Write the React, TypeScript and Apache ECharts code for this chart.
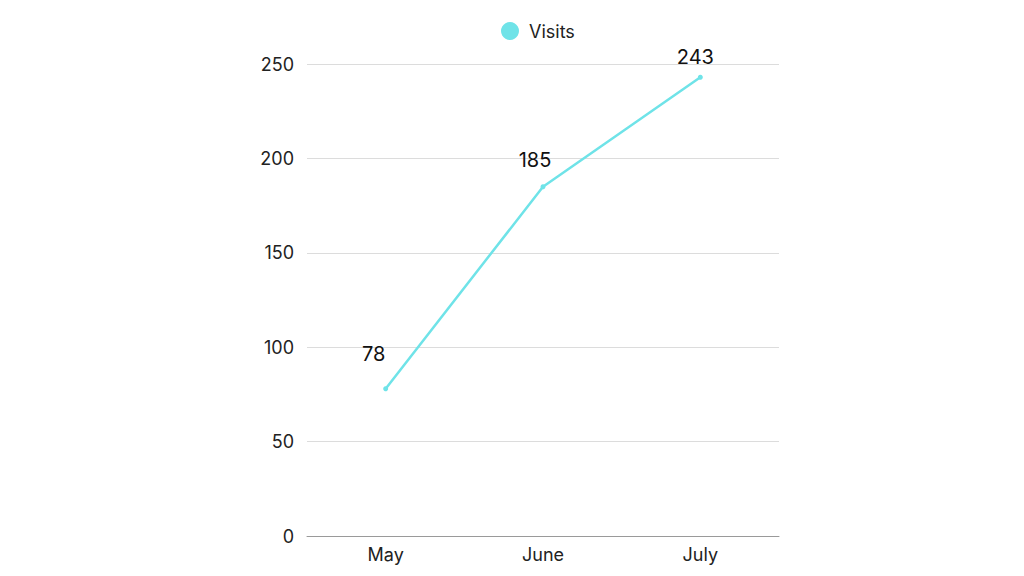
import React, { useEffect, useRef } from "react";
import * as echarts from "echarts";

const categories = ["May", "June", "July"];
const visits = [78, 185, 243];
const seriesName = "Visits";
const labelOffsets: [number, number][] = [[-12, -17], [-8, -9], [-5, -3]];

export default function App() {
  const ref = useRef<HTMLDivElement>(null);
  useEffect(() => {
    if (!ref.current) return;
    const chart = echarts.init(ref.current, undefined, { renderer: "svg" });
    const font = "Inter, 'Open Sans', sans-serif";
    chart.setOption({
      animation: false,
      textStyle: { fontFamily: font },
      legend: {
        top: 17,
        left: 496,
        icon: "circle",
        itemWidth: 18,
        itemHeight: 18,
        itemGap: 10,
        textStyle: { fontSize: 18, color: "#222", fontFamily: font, padding: [0, 0, 0, 5] },
        data: [seriesName],
      },
      grid: { left: 307, right: 245, top: 64, bottom: 40, containLabel: false },
      xAxis: {
        type: "category",
        data: categories,
        boundaryGap: true,
        axisLine: { lineStyle: { color: "#9a9a9a", width: 1 } },
        axisTick: { show: false },
        axisLabel: { fontSize: 18, color: "#222", margin: 9, fontFamily: font },
      },
      yAxis: {
        type: "value",
        min: 0,
        max: 250,
        interval: 50,
        axisLine: { show: false },
        axisTick: { show: false },
        axisLabel: { fontSize: 18, color: "#222", margin: 13, fontFamily: font },
        splitLine: { lineStyle: { color: "#dcdcdc", width: 1 } },
      },
      series: [
        {
          name: seriesName,
          type: "line",
          data: visits.map((v, i) => ({
            value: v,
            label: { offset: labelOffsets[i] },
          })),
          color: "#6fe3e8",
          lineStyle: { width: 2.5, color: "#6fe3e8" },
          symbol: "circle",
          symbolSize: 5,
          itemStyle: { color: "#6fe3e8" },
          label: {
            show: true,
            position: "top",
            distance: 5,
            fontSize: 20,
            color: "#111",
            fontFamily: font,
          },
        },
      ],
    });
    return () => chart.dispose();
  }, []);
  return (
    <div
      ref={ref}
      style={{ position: "fixed", left: 0, top: 0, width: 1024, height: 576, background: "#fff" }}
    />
  );
}
